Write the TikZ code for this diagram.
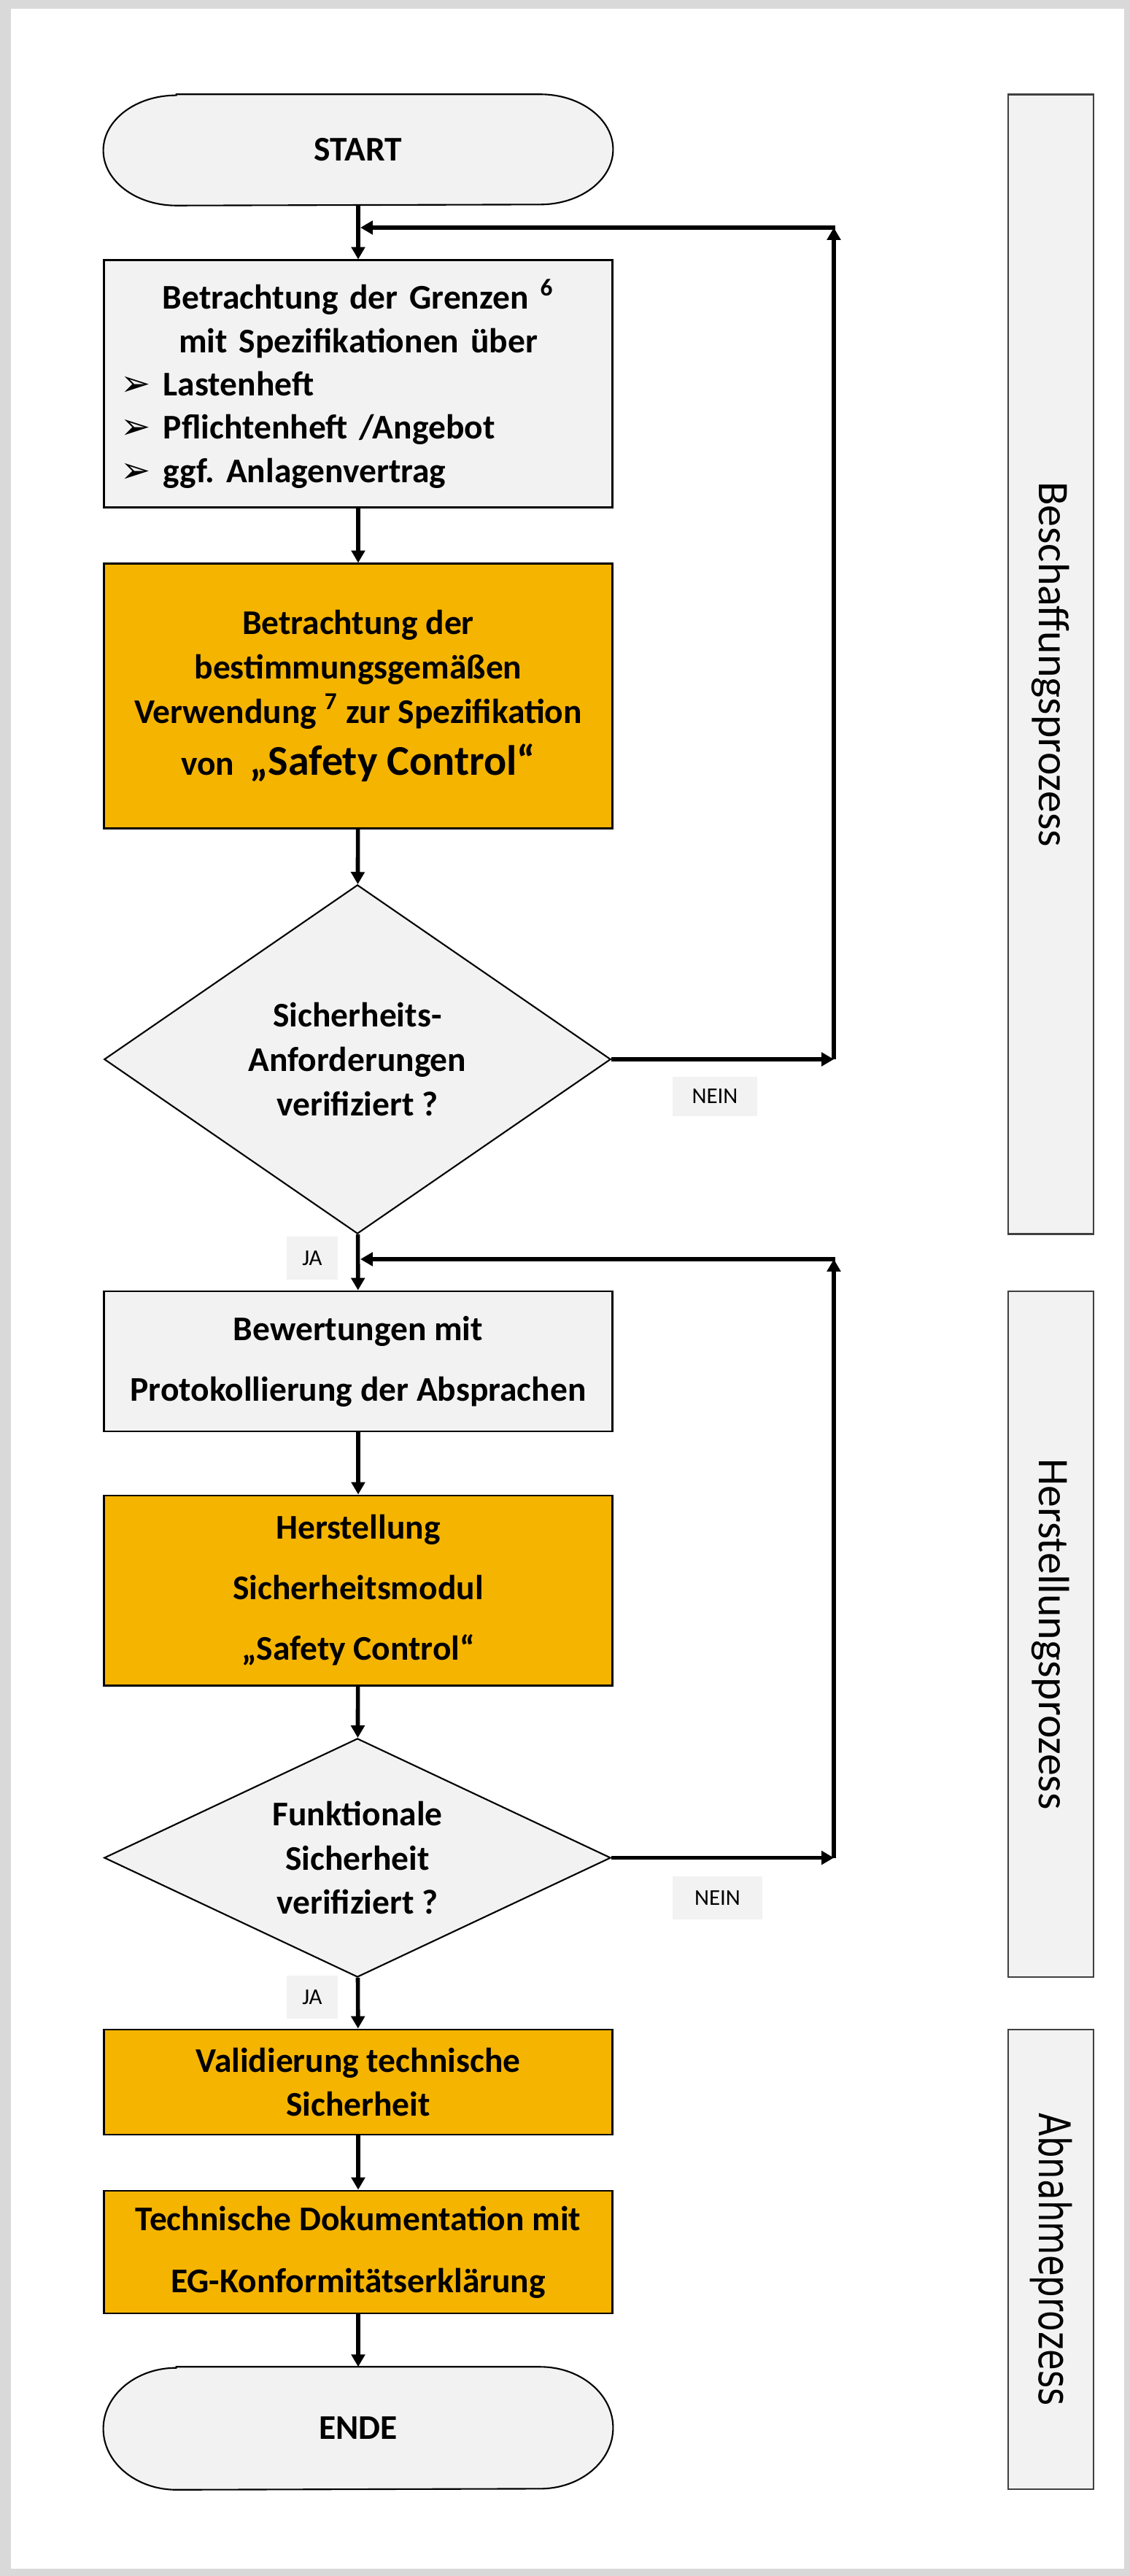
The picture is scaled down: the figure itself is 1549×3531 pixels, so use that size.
\documentclass[tikz,border=0pt]{standalone}
\usepackage{fontspec}
\setmainfont{Carlito}
\newfontfamily\dejavu{DejaVu Sans}
\usetikzlibrary{shapes.geometric,arrows.meta}
\definecolor{orng}{HTML}{F5B400}
\definecolor{lgrey}{HTML}{F2F2F2}
\definecolor{framegrey}{HTML}{D9D9D9}
\definecolor{pborder}{HTML}{404040}
\pgfdeclarelayer{bg}
\pgfsetlayers{bg,main}
\newcommand{\bul}{\makebox[0.58cm][l]{{\dejavu\mdseries\fontsize{14pt}{14pt}\selectfont ➢}}}
\frenchspacing
\begin{document}
\begin{tikzpicture}[x=0.01cm,y=-0.01cm,
  base/.style={inner sep=0pt,align=center,font=\bfseries\fontsize{13.5pt}{16.9pt}\selectfont},
  proc/.style={base,rectangle,draw=black,line width=0.8pt,minimum width=6.97cm},
  greybox/.style={proc,fill=lgrey},
  orangebox/.style={proc,fill=orng},
  decision/.style={base,diamond,draw=black,line width=0.6pt,fill=lgrey,minimum width=6.94cm},
  termnode/.style={base,rectangle,minimum width=6.97cm},
  termshape/.style={draw=black,line width=0.6pt,fill=lgrey},
  phase/.style={rectangle,draw=pborder,line width=0.6pt,fill=lgrey,rotate=-90,minimum height=1.17cm,inner sep=0pt,font=\fontsize{17pt}{20pt}\selectfont},
  tag/.style={fill=lgrey,inner sep=0pt,font=\fontsize{8.8pt}{10pt}\selectfont},
  arr/.style={line width=1.6pt,-{Triangle[length=4.8pt,width=5.2pt]}}]
\useasboundingbox (0,0) rectangle (1549,3531);
\begin{pgfonlayer}{bg}
\fill[framegrey] (0,0) rectangle (1549,3531);
\fill[white] (15,12) rectangle (1541,3521);
\end{pgfonlayer}

% flow nodes
\node[termnode,minimum height=1.51cm] (start) at (491,205.5) {START};
\node[greybox,minimum height=3.38cm,text width=6.5cm,align=left] (b1) at (491,526) {%
\makebox[6.5cm][c]{Betrachtung der Grenzen \textsuperscript{6}}\\
\makebox[6.5cm][c]{mit Spezifikationen über}\\
\bul Lastenheft\\
\bul Pflichtenheft /Angebot\\
\bul ggf. Anlagenvertrag};
\node[orangebox,minimum height=3.62cm,font=\bfseries\fontsize{13.5pt}{17.3pt}\selectfont] (b2) at (491,954) {Betrachtung der\\ bestimmungsgemäßen\\ Verwendung \textsuperscript{7} zur Spezifikation\\[3pt] von~~{\fontsize{16.5pt}{19pt}\selectfont „Safety Control“}};
\node[decision,aspect=1.45,minimum height=4.78cm,font=\bfseries\fontsize{13.5pt}{17.3pt}\selectfont] (d1) at (490,1452) {Sicherheits-\\Anforderungen\\verifiziert ?};
\node[greybox,minimum height=1.92cm,font=\bfseries\fontsize{13.5pt}{23.6pt}\selectfont] (b3) at (491,1866) {Bewertungen mit\\Protokollierung der Absprachen};
\node[orangebox,minimum height=2.60cm,font=\bfseries\fontsize{13.5pt}{23.6pt}\selectfont] (b4) at (491,2180) {Herstellung\\Sicherheitsmodul\\„Safety Control“};
\node[decision,aspect=2.12,minimum height=3.27cm,font=\bfseries\fontsize{13.5pt}{17.3pt}\selectfont] (d2) at (490,2546.5) {Funktionale\\Sicherheit\\verifiziert ?};
\node[orangebox,minimum height=1.44cm,font=\bfseries\fontsize{13.5pt}{16.8pt}\selectfont] (b5) at (491,2854) {Validierung technische\\Sicherheit};
\node[orangebox,minimum height=1.68cm,font=\bfseries\fontsize{13.5pt}{24.2pt}\selectfont] (b6) at (491,3087) {Technische Dokumentation mit\\EG-Konformitätserklärung};
\node[termnode,minimum height=1.67cm] (ende) at (491,3328.5) {ENDE};

% terminator outlines
\begin{pgfonlayer}{bg}
\draw[termshape] ([xshift=1cm]start.north west) -- ([xshift=-1cm]start.north east)
  arc[start angle=90,end angle=-90,x radius=1cm,y radius=0.755cm]
  -- ([xshift=1cm]start.south west)
  arc[start angle=270,end angle=90,x radius=1cm,y radius=0.755cm] -- cycle;
\draw[termshape] ([xshift=1cm]ende.north west) -- ([xshift=-1cm]ende.north east)
  arc[start angle=90,end angle=-90,x radius=1cm,y radius=0.835cm]
  -- ([xshift=1cm]ende.south west)
  arc[start angle=270,end angle=90,x radius=1cm,y radius=0.835cm] -- cycle;
\end{pgfonlayer}

% phase panels
\node[phase,minimum width=15.61cm] (p1) at (1440.5,910.5) {Beschaffungsprozess};
\node[phase,minimum width=9.40cm] (p2) at (1440.5,2240) {Herstellungsprozess};
\node[phase,minimum width=6.30cm] (p3) at (1440.5,3097) {{\dejavu\scalebox{0.78}[1]{Abnahmeprozess}}};

% labels
\node[tag,minimum width=1.16cm,minimum height=0.54cm] (n1) at (980,1503) {NEIN};
\node[tag,minimum width=1.23cm,minimum height=0.59cm] (n2) at (983.5,2601.5) {NEIN};
\node[tag,minimum width=0.70cm,minimum height=0.59cm] (ja1) at (428,1724.5) {JA};
\node[tag,minimum width=0.70cm,minimum height=0.59cm] (ja2) at (428,2737.5) {JA};

% main flow
\draw[arr] (start) -- (b1);
\draw[arr] (b1) -- (b2);
\draw[arr] (b2) -- (d1);
\draw[arr] (d1) -- (b3);
\draw[arr] (b3) -- (b4);
\draw[arr] (b4) -- (d2);
\draw[arr] (d2) -- (b5);
\draw[arr] (b5) -- (b6);
\draw[arr] (b6) -- (ende);

% loops
\coordinate (j1) at (494,312);
\coordinate (t1) at (1143,312);
\coordinate (r1) at (d1.east -| t1);
\draw[arr] (d1.east) -- (r1);
\draw[arr] (r1) -- (t1);
\draw[arr] ([xshift=0.7pt]t1) -- (j1);

\coordinate (j2) at (494,1726);
\coordinate (t2) at (1143,1726);
\coordinate (r2) at (d2.east -| t2);
\draw[arr] (d2.east) -- (r2);
\draw[arr] (r2) -- (t2);
\draw[arr] ([xshift=0.7pt]t2) -- (j2);
\end{tikzpicture}
\end{document}
